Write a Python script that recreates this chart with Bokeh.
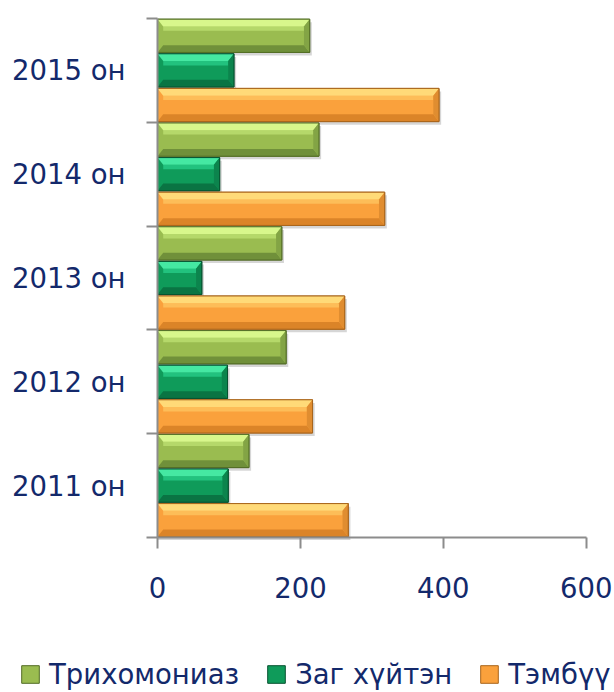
from bokeh.plotting import figure
from bokeh.models import Range1d, FixedTicker, Legend, LegendItem
from bokeh.embed import file_html
from bokeh.resources import INLINE

years = ["2011 он", "2012 он", "2013 он", "2014 он", "2015 он"]
trich = [128, 180, 174, 226, 213]
zag = [99, 98, 62, 87, 107]
temb = [267, 217, 262, 318, 394]
series_names = ["Трихомониаз", "Заг хүйтэн", "Тэмбүү"]
x_ticks = [0, 200, 400, 600]

NAVY = "#13296B"
AXIS = "#8C8C8C"
FONT = "DejaVu Sans"
FS = "27.5px"

W, H = 614, 692
# pixel placement of the plotting area inside the canvas
PX_LEFT, PX_RIGHT, PX_TOP, PX_BOTTOM = 157.0, 585.7, 18.0, 537.0
XMAX = 600.0
NCAT = len(years)
sx = (PX_RIGHT - PX_LEFT) / XMAX
sy = (PX_BOTTOM - PX_TOP) / NCAT
x_range = Range1d(-PX_LEFT / sx, XMAX + (W - PX_RIGHT) / sx)
y_range = Range1d(-(H - PX_BOTTOM) / sy, NCAT + PX_TOP / sy)

p = figure(width=W, height=H, output_backend="svg", toolbar_location=None,
           x_range=x_range, y_range=y_range,
           min_border_left=0, min_border_right=0, min_border_top=0,
           min_border_bottom=0)
p.outline_line_color = None
p.xgrid.visible = False
p.ygrid.visible = False
p.background_fill_color = "white"
p.border_fill_color = "white"

BAR_H = 0.32
BX = 8.0
BY = 0.07

styles = [
    # values, offset, body, top-light, top-mid, bottom, right, outline
    (trich, 1/3, "#9ABC50", "#D8F78C", "#B5D86A", "#70903A", "#83A445", "#536D26"),
    (zag, 0.0, "#0F9B5A", "#45E8A2", "#22C27E", "#0A7443", "#0C844D", "#075230"),
    (temb, -1/3, "#FAA13C", "#FFDA78", "#FDBD58", "#DB8428", "#E08D30", "#A8651C"),
]

# shadows first
for vals, off, body, top, mid, bot, right, outl in styles:
    c = [i + 0.5 + off for i in range(len(vals))]
    p.quad(left=0, right=[v + 3 for v in vals],
           top=[y + BAR_H / 2 - 0.03 for y in c],
           bottom=[y - BAR_H / 2 - 0.03 for y in c],
           fill_color="black", fill_alpha=0.16, line_color=None)

legend_renderers = []
for vals, off, body, top, mid, bot, right, outl in styles:
    c = [i + 0.5 + off for i in range(len(vals))]
    y0 = [y - BAR_H / 2 for y in c]
    y1 = [y + BAR_H / 2 for y in c]
    r = p.quad(left=0, right=vals, top=y1, bottom=y0,
               fill_color=body, line_color=outl, line_width=1)
    legend_renderers.append(r)
    xs_t, ys_t, xs_m, ys_m, xs_b, ys_b, xs_r, ys_r = [], [], [], [], [], [], [], []
    for v, a, b in zip(vals, y0, y1):
        xs_t.append([0, v, v - BX, BX]); ys_t.append([b, b, b - BY, b - BY])
        xs_m.append([BX, v - BX, v - BX, BX]); ys_m.append([b - BY, b - BY, b - 1.6 * BY, b - 1.6 * BY])
        xs_b.append([0, v, v - BX, BX]); ys_b.append([a, a, a + BY, a + BY])
        xs_r.append([v, v, v - BX, v - BX]); ys_r.append([a, b, b - BY, a + BY])
    p.patches(xs_m, ys_m, fill_color=mid, line_color=None)
    p.patches(xs_t, ys_t, fill_color=top, line_color=None)
    p.patches(xs_b, ys_b, fill_color=bot, line_color=None)
    p.patches(xs_r, ys_r, fill_color=right, line_color=None)
    p.quad(left=0, right=vals, top=y1, bottom=y0,
           fill_color=None, line_color=outl, line_width=1)

xa = p.xaxis[0]
xa.fixed_location = 0
xa.bounds = (0, XMAX)
xa.ticker = FixedTicker(ticks=x_ticks)
xa.major_tick_out = 11
xa.major_tick_in = 0
xa.minor_tick_out = 0
xa.minor_tick_in = 0
xa.axis_line_color = AXIS
xa.axis_line_width = 2
xa.major_tick_line_color = AXIS
xa.major_tick_line_width = 2
xa.major_label_text_font = FONT
xa.major_label_text_font_size = FS
xa.major_label_text_color = NAVY
xa.major_label_standoff = 28

ya = p.yaxis[0]
ya.fixed_location = 0
ya.bounds = (0, NCAT)
centers = [i + 0.5 for i in range(NCAT)]
ya.ticker = FixedTicker(ticks=centers, minor_ticks=list(range(NCAT + 1)))
ya.major_tick_out = 0
ya.major_tick_in = 0
ya.minor_tick_out = 11
ya.minor_tick_in = 0
ya.axis_line_color = AXIS
ya.axis_line_width = 2
ya.minor_tick_line_color = AXIS
ya.minor_tick_line_width = 2
overrides = {}
for cc, lab in zip(centers, years):
    overrides[cc] = lab
    overrides[str(cc)] = lab
ya.major_label_overrides = overrides
ya.major_label_text_font = FONT
ya.major_label_text_font_size = FS
ya.major_label_text_color = NAVY
ya.major_label_standoff = 21

legend = Legend(
    items=[LegendItem(label=n, renderers=[r]) for n, r in zip(series_names, legend_renderers)],
    orientation="horizontal", location=(19, 2),
    label_text_font=FONT, label_text_font_size=FS, label_text_color=NAVY,
    glyph_width=22, glyph_height=22, label_standoff=8, spacing=26,
    padding=0, margin=0, border_line_color=None, background_fill_alpha=0)
p.add_layout(legend)

open("out.html", "w").write(file_html(p, INLINE))
